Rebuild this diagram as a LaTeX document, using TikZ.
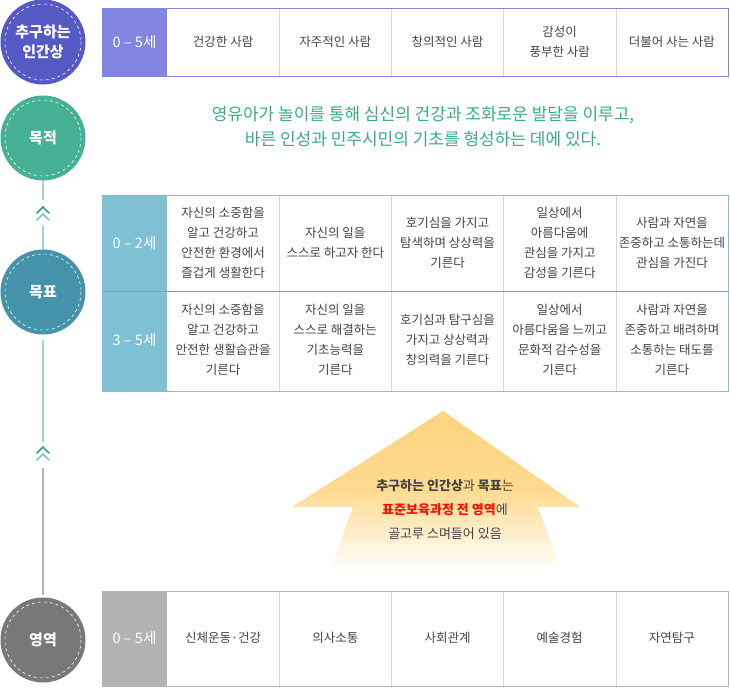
\documentclass[tikz,border=0pt]{standalone}
\usepackage{fontspec}
\setmainfont{Noto Sans CJK KR}
\usetikzlibrary{shapes.geometric}
\definecolor{cA}{HTML}{5559C4}\definecolor{hA}{HTML}{8385E2}
\definecolor{cB}{HTML}{46B094}\definecolor{tB}{HTML}{3AAA8C}
\definecolor{cC}{HTML}{4592AB}\definecolor{hC}{HTML}{80C0D4}
\definecolor{cD}{HTML}{787878}\definecolor{hD}{HTML}{B3B3B3}
\definecolor{txt}{HTML}{444444}\definecolor{cellline}{HTML}{D8D8D8}
\definecolor{arr}{HTML}{FDD47E}
\tikzset{
 circ/.style={circle,fill=#1,minimum size=85pt,inner sep=0pt,text=white,font=\bfseries\fontsize{15}{20}\selectfont,align=center},
 cell/.style={minimum width=112.2pt,align=center,text=txt,font=\fontsize{12.5}{20}\selectfont,inner sep=0pt},
 hd/.style={text=white,font=\fontsize{14.5}{16}\selectfont}
 ,chev/.style={line width=1.6pt,line cap=round}
}
\begin{document}
\begin{tikzpicture}[x=1pt,y=-1pt]
\useasboundingbox (0,0) rectangle (730,696);
% vertical lines
\draw[color=hC!70,line width=1.5pt] (43,180)--(43,200) (43,225)--(43,250) (43,340)--(43,442);
\draw[color=hD!80!hC,line width=1.5pt] (43,468)--(43,595);
\foreach \y in {207,447}{
 \draw[chev,color=cC] (37,\y+6)--(43,\y)--(49,\y+6);
 \draw[chev,color=hC] (37,\y+13)--(43,\y+7)--(49,\y+13);}
% circles
\foreach \n/\c/\y/\t in {c1/cA/42/{추구하는\\인간상},c2/cB/138/{목적},c3/cC/292/{목표},c4/cD/640/{영역}}{
 \node[circ=\c] (\n) at (43,\y) {\t};
 \draw[white,dashed,line width=0.6pt] (43,\y) circle[radius=38];}
% top table
\fill[hA] (102,8) rectangle (167,76);
\node[hd] (h1) at (134.5,42) {0 – 5세};
\foreach \i in {1,...,4} \draw[cellline] (167+\i*112.2,8)--(167+\i*112.2,76);
\draw[hA,line width=1pt] (102,8) rectangle (728,76);
\foreach \i/\t in {0/{건강한 사람},1/{자주적인 사람},2/{창의적인 사람},3/{감성이\\풍부한 사람},4/{더불어 사는 사람}}
 \node[cell] (t\i) at (223.1+\i*112.2,42) {\t};
% purpose
\node[text=tB,align=center,font=\fontsize{17}{25}\selectfont] (p) at (423,127) {영유아가 놀이를 통해 심신의 건강과 조화로운 발달을 이루고,\\바른 인성과 민주시민의 기초를 형성하는 데에 있다.};
% goal table
\fill[hC] (102,195) rectangle (167,391);
\foreach \i in {1,...,4} \draw[cellline] (167+\i*112.2,195)--(167+\i*112.2,391);
\draw[hC,line width=1pt] (102,195) rectangle (728,391);
\draw[cC!80,line width=0.8pt] (102,291)--(728,291);
\node[hd] (h2) at (134.5,243) {0 – 2세};
\node[hd] (h3) at (134.5,340) {3 – 5세};
\foreach \i/\t in {0/{자신의 소중함을\\알고 건강하고\\안전한 환경에서\\즐겁게 생활한다},1/{자신의 일을\\스스로 하고자 한다},2/{호기심을 가지고\\탐색하며 상상력을\\기른다},3/{일상에서\\아름다움에\\관심을 가지고\\감성을 기른다},4/{사람과 자연을\\존중하고 소통하는데\\관심을 가진다}}
 \node[cell] (g\i) at (223.1+\i*112.2,243) {\t};
\foreach \i/\t in {0/{자신의 소중함을\\알고 건강하고\\안전한 생활습관을\\기른다},1/{자신의 일을\\스스로 해결하는\\기초능력을\\기른다},2/{호기심과 탐구심을\\가지고 상상력과\\창의력을 기른다},3/{일상에서\\아름다움을 느끼고\\문화적 감수성을\\기른다},4/{사람과 자연을\\존중하고 배려하며\\소통하는 태도를\\기른다}}
 \node[cell] (k\i) at (223.1+\i*112.2,340) {\t};
% arrow
\shade[top color=arr,bottom color=white,middle color=arr!85] (443,411)--(580,507)--(538,507)--(561,571)--(330,571)--(353,507)--(292,507)--cycle;
\node[align=center,font=\fontsize{13}{24}\selectfont,text=txt] (msg) at (445,510) {\textbf{추구하는 인간상}과 \textbf{목표}는\\{\color{red!90!orange}\textbf{표준보육과정 전 영역}}에\\골고루 스며들어 있음};
% area table
\fill[hD] (102,591) rectangle (167,686);
\foreach \i in {1,...,4} \draw[cellline] (167+\i*112.2,591)--(167+\i*112.2,686);
\draw[hD,line width=1pt] (102,591) rectangle (728,686);
\node[hd] (h4) at (134.5,638) {0 – 5세};
\foreach \i/\t in {0/{신체운동·건강},1/{의사소통},2/{사회관계},3/{예술경험},4/{자연탐구}}
 \node[cell] (a\i) at (223.1+\i*112.2,638) {\t};
\end{tikzpicture}
\end{document}
